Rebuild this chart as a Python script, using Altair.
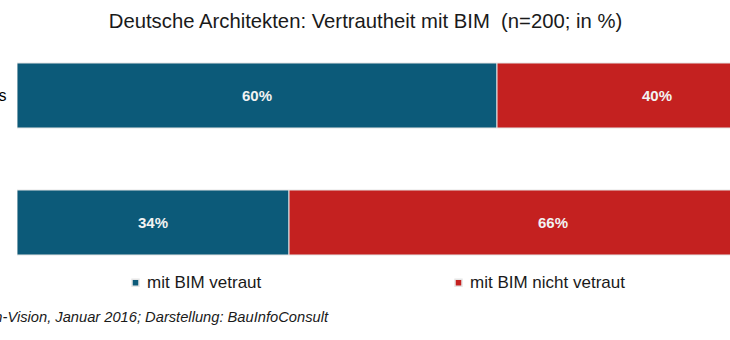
import altair as alt
import pandas as pd

categories = ["große Büros", "kleine Büros"]
series = ["mit BIM vetraut", "mit BIM nicht vetraut"]
vertraut = [60, 34]
nicht_vertraut = [40, 66]
colors = ["#0C5A79", "#C42120"]

title_text = "Deutsche Architekten: Vertrautheit mit BIM \u00a0(n=200; in %)"
footer_text = "Quelle: BauInfoConsult / Architekten-Vision, Januar 2016; Darstellung: BauInfoConsult"

rows = []
for i, c in enumerate(categories):
    rows.append({"cat": c, "serie": series[0], "order": 0, "value": vertraut[i]})
    rows.append({"cat": c, "serie": series[1], "order": 1, "value": nicht_vertraut[i]})
df = pd.DataFrame(rows)

W, H = 713, 254
xscale = alt.Scale(domain=[0, 89.125], nice=False, zero=True)
yscale = alt.Scale(domain=categories, paddingInner=0.488, paddingOuter=0.244)

base = alt.Chart(df).transform_stack(
    stack="value", as_=["x0", "x1"], groupby=["cat"], sort=[alt.SortField("order")]
).transform_calculate(
    mid="(datum.x0 + datum.x1) / 2",
    label="datum.value + '%'"
)

label_pad = {"condition": {"test": f"datum.value == '{categories[1]}'", "value": 22}, "value": 11}

bars = base.mark_bar(clip=True, stroke="#E6E6E6", strokeWidth=1).encode(
    x=alt.X("x0:Q", scale=xscale, axis=None),
    x2="x1:Q",
    y=alt.Y("cat:N", scale=yscale, title=None,
            axis=alt.Axis(domain=False, ticks=False, grid=False, labelPadding=label_pad,
                          labelFontSize=16, labelFont="Liberation Sans", labelColor="#000000")),
    color=alt.Color("serie:N", scale=alt.Scale(domain=series, range=colors),
                    legend=alt.Legend(title=None, orient="none", legendX=110, legendY=242,
                                      direction="horizontal", columns=2, columnPadding=188,
                                      symbolType="square", symbolSize=49, symbolOffset=0,
                                      labelFontSize=17, labelFont="Liberation Sans",
                                      labelColor="#1a1a1a", labelOffset=3)),
)

labels = base.mark_text(font="Liberation Sans", fontSize=15, fontWeight="bold",
                        color="#F2F2F2", clip=True).encode(
    x=alt.X("mid:Q", scale=xscale, axis=None),
    y=alt.Y("cat:N", scale=yscale),
    text="label:N",
)

footer = alt.Chart(pd.DataFrame({"t": [footer_text]})).mark_text(
    font="Liberation Sans", fontSize=14.7, fontStyle="italic", color="#1a1a1a",
    align="right", baseline="middle"
).encode(x=alt.value(311), y=alt.value(286), text="t:N")

chart = alt.layer(bars, labels, footer).properties(
    width=W, height=H,
    title=alt.TitleParams(title_text, font="Liberation Sans", fontSize=20.3,
                          fontWeight="normal", color="#1a1a1a", anchor="middle",
                          dx=-8, offset=0),
    padding={"left": 17, "top": 32, "right": 0, "bottom": 54},
    autosize=alt.AutoSizeParams(type="none"),
    background="#ffffff",
).configure_view(strokeWidth=0, stroke=None)

chart.save("out.html", embed_options={"renderer": "svg", "actions": False})
